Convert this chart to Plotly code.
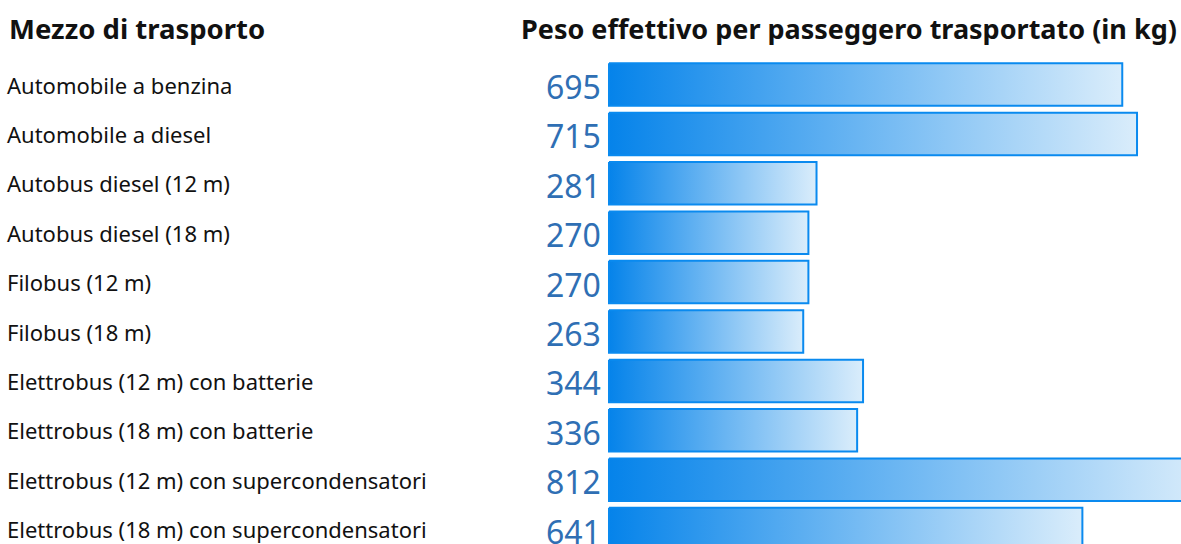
import plotly.graph_objects as go

# Data
categories = [
    "Automobile a benzina",
    "Automobile a diesel",
    "Autobus diesel (12 m)",
    "Autobus diesel (18 m)",
    "Filobus (12 m)",
    "Filobus (18 m)",
    "Elettrobus (12 m) con batterie",
    "Elettrobus (18 m) con batterie",
    "Elettrobus (12 m) con supercondensatori",
    "Elettrobus (18 m) con supercondensatori",
]
weights_kg = [695, 715, 281, 270, 270, 263, 344, 336, 812, 641]

header_left = "Mezzo di trasporto"
header_right = "Peso effettivo per passeggero trasportato (in kg)"

# Canvas geometry
W, H = 1181, 544
x0_px = 609          # pixel where value 0 sits
px_per_kg = 0.7385
row0_px = 84.5       # centre of first row
row_px = 49.4        # row pitch
half_h = 0.43        # half bar height in row units

FONT = "Noto Sans"
BAR_LINE = "#0a8aef"
GRAD = [[0, "#0583ea"], [1, "#daedfb"]]
NUM_COLOR = "#2f6fb4"

fig = go.Figure()

for i, (cat, v) in enumerate(zip(categories, weights_kg)):
    fig.add_trace(go.Scatter(
        x=[0, v, v, 0, 0],
        y=[i - half_h, i - half_h, i + half_h, i + half_h, i - half_h],
        mode="lines",
        fill="toself",
        fillgradient=dict(type="horizontal", colorscale=GRAD),
        line=dict(color=BAR_LINE, width=2),
        hoverinfo="skip",
        showlegend=False,
    ))
    fig.add_annotation(
        x=5 / W, xref="paper", y=i, yref="y",
        text=cat, showarrow=False, xanchor="left", yanchor="middle",
        font=dict(family=FONT, size=22, color="#111111"),
    )
    fig.add_annotation(
        x=603 / W, xref="paper", y=i + 0.04, yref="y",
        text=str(v), showarrow=False, xanchor="right", yanchor="middle",
        font=dict(family=FONT, size=32, color=NUM_COLOR),
    )

fig.add_annotation(
    x=7 / W, xref="paper", y=1 - 28 / H, yref="paper",
    text="<b>" + header_left + "</b>", showarrow=False,
    xanchor="left", yanchor="middle",
    font=dict(family=FONT, size=27.5, color="#111111"),
)
fig.add_annotation(
    x=1179 / W, xref="paper", y=1 - 28 / H, yref="paper",
    text="<b>" + header_right + "</b>", showarrow=False,
    xanchor="right", yanchor="middle",
    font=dict(family=FONT, size=27, color="#111111"),
)

x_left = -x0_px / px_per_kg
x_right = (W - x0_px) / px_per_kg
y_top = -row0_px / row_px
y_bottom = (H - row0_px) / row_px

fig.update_layout(
    width=W, height=H,
    margin=dict(l=0, r=0, t=0, b=0),
    paper_bgcolor="white", plot_bgcolor="white",
    xaxis=dict(range=[x_left, x_right], visible=False, fixedrange=True),
    yaxis=dict(range=[y_bottom, y_top], visible=False, fixedrange=True),
)

fig.write_html("out.html")
